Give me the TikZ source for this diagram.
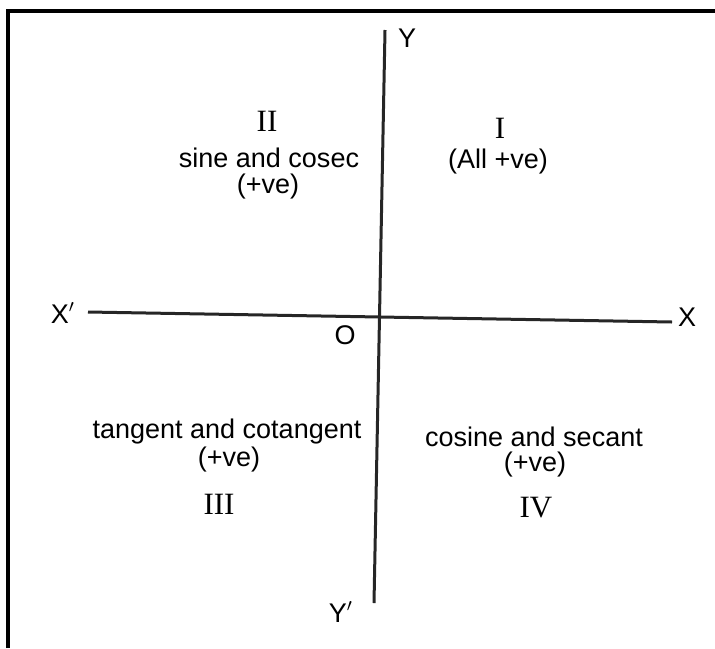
\documentclass[tikz,border=0pt]{standalone}
\usepackage{fontspec}
\setmainfont{Liberation Serif}
\newfontfamily\arial{Liberation Sans}
\usepackage{tikz}
\usetikzlibrary{positioning}
\tikzset{
  marco/.style={black,line width=2pt,line join=miter},
  eje/.style={black!85,line width=1.5pt},
  letra/.style={font=\arial\fontsize{13.5}{16}\selectfont,inner sep=0pt},
  texto/.style={font=\arial\fontsize{13.5}{14}\selectfont,align=center,inner sep=0pt},
  romano/.style={font=\fontsize{15.5}{16}\selectfont,inner sep=0pt}
}

\begin{document}
\begin{tikzpicture}[x=0.5pt,y=-0.5pt]
\useasboundingbox (0,0) rectangle (715,648);
\draw[marco] (8,648) -- (8,11) -- (715,11);
% ejes
\coordinate (ya) at (385,30);
\coordinate (yb) at (374,603);
\coordinate (xa) at (88,312);
\coordinate (xb) at (672,322);
\draw[eje] (ya) -- (yb);
\draw[eje] (xa) -- (xb);
\node[letra] (ly) at (407,38) {Y};
\node[letra] (lyp) at (341,612) {Y$'$};
\node[letra] (lx) at (687,317) {X};
\node[letra] (lxp) at (63,313) {X$'$};
\node[letra] (lo) at (345,335) {O};
% cuadrantes
\node[romano] (c1) at (500,128) {I};
\node[texto] (t1) at (498,162) {(All +ve)};
\node[romano] (c2) at (267,121) {II};
\node[texto] (t2) at (269,158) {sine and cosec};
\node[texto] (s2) at (268,187) {(+ve)};
\node[texto] (t3) at (227,432) {tangent and cotangent};
\node[texto] (s3) at (229,460) {(+ve)};
\node[romano] (c3) at (219,504) {III};
\node[texto] (t4) at (534,437) {cosine and secant};
\node[texto] (s4) at (535,465) {(+ve)};
\node[romano] (c4) at (536,508) {IV};
\end{tikzpicture}
\end{document}
